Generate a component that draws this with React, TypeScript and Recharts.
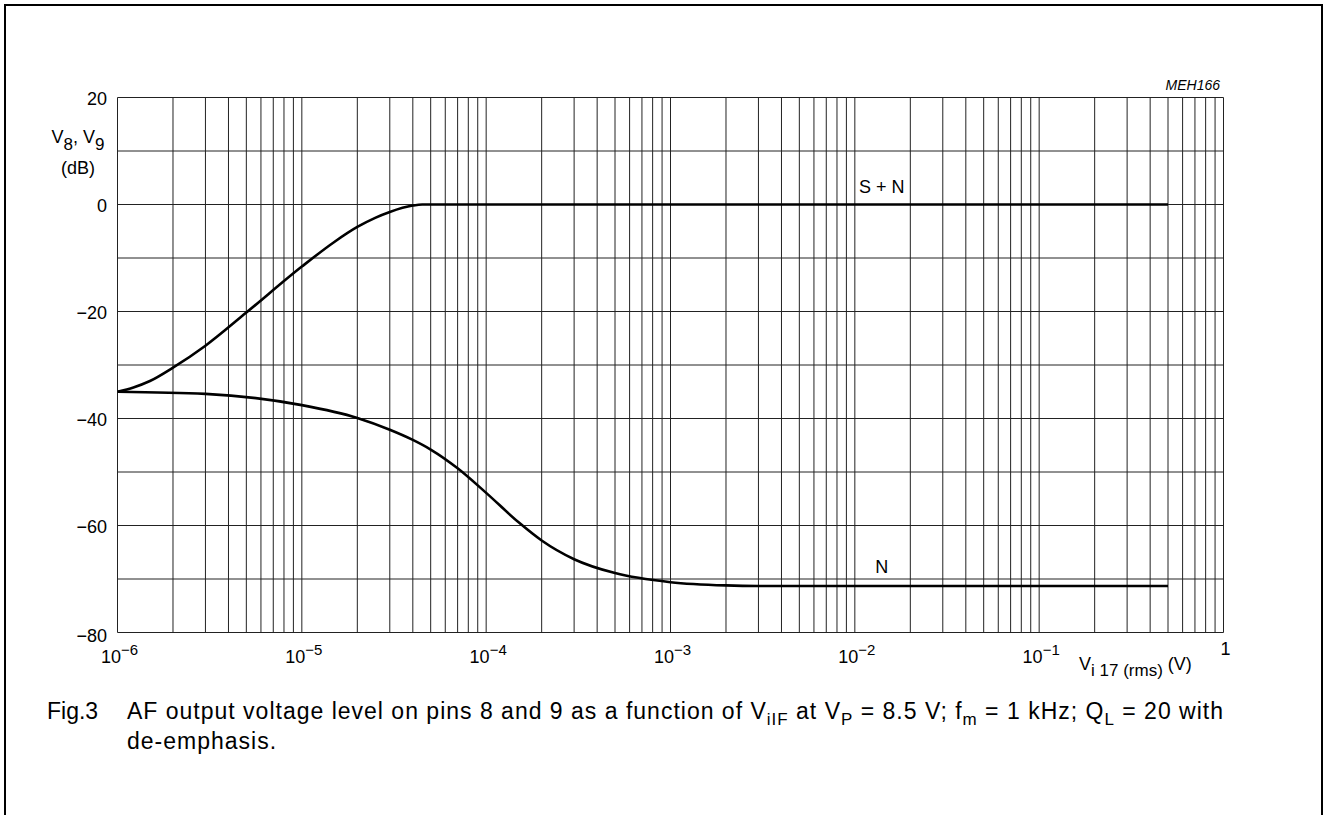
import React from 'react';
import { LineChart, Line, XAxis, YAxis, CartesianGrid, ReferenceDot } from 'recharts';

// S + N curve
const snX = [1e-6, 1.22e-6, 1.5e-6, 2e-6, 3e-6, 5e-6, 1e-5, 1.5e-5, 2e-5, 2.5e-5, 3e-5, 4e-5, 4.5e-5, 0.5];
const snY = [-35, -34.2, -33.0, -30.5, -26.4, -20.2, -11.6, -7.0, -4.2, -2.5, -1.4, -0.2, 0, 0];
// N curve
const nX = [1e-6, 3e-6, 1e-5, 2e-5, 3e-5, 4e-5, 5e-5, 7e-5, 1e-4, 1.5e-4, 2e-4, 3e-4, 5e-4, 1e-3, 2e-3, 3e-3, 0.5];
const nY = [-35, -35.4, -37.5, -39.9, -42.1, -44.0, -45.8, -49.3, -53.9, -59.4, -62.8, -66.3, -68.9, -70.6, -71.2, -71.3, -71.3];

// axes
const decadeExponents = [-6, -5, -4, -3, -2, -1, 0];
const decadeLabels = ['\u22126', '\u22125', '\u22124', '\u22123', '\u22122', '\u22121', ''];
const minorMultipliers = [1, 2, 3, 4, 5, 6, 7, 8, 9];
const yTicks = [-80, -70, -60, -50, -40, -30, -20, -10, 0, 10, 20];
const yLabeled = [-80, -60, -40, -20, 0, 20];

const xTicks: number[] = [];
decadeExponents.forEach((e) => {
  if (e === 0) {
    xTicks.push(1);
  } else {
    minorMultipliers.forEach((m) => xTicks.push(Number((m * Math.pow(10, e)).toPrecision(3))));
  }
});

const snData = snX.map((x, i) => ({ x, y: snY[i] }));
const nData = nX.map((x, i) => ({ x, y: nY[i] }));

const FONT = '"Liberation Sans", Arial, Helvetica, sans-serif';

const XTick = (props: any) => {
  const { x, y, payload } = props;
  const v = Number(payload.value);
  const idx = decadeExponents.findIndex((e) => Math.abs(Math.pow(10, e) - v) / v < 1e-6);
  if (idx < 0) return <g />;
  if (decadeExponents[idx] === 0) {
    return (
      <text x={x + 2} y={y + 22} textAnchor="middle" fontFamily={FONT} fontSize={18} fill="#000">1</text>
    );
  }
  return (
    <text x={x + 2} y={y + 30} textAnchor="middle" fontFamily={FONT} fontSize={18} fill="#000">
      10<tspan dy={-8} fontSize={15}>{decadeLabels[idx]}</tspan>
    </text>
  );
};

const YTick = (props: any) => {
  const { x, y, payload } = props;
  const v = Number(payload.value);
  if (!yLabeled.includes(v)) return <g />;
  const txt = v < 0 ? '\u2212' + Math.abs(v) : String(v);
  return (
    <text x={x - 10.5} y={y + (v === -80 ? 9 : 7)} textAnchor="end" fontFamily={FONT} fontSize={18} fill="#000">{txt}</text>
  );
};

export default function App() {
  return (
    <div style={{ position: 'absolute', left: 0, top: 0, width: 1326, height: 815, overflow: 'hidden', background: '#fff' }}>
      <div style={{ position: 'absolute', left: 4, top: 4, width: 1319, height: 900, border: '2px solid #000', boxSizing: 'border-box' }} />
      <div style={{ position: 'absolute', left: 0, top: 0 }}>
        <LineChart width={1326} height={815} margin={{ top: 97.5, right: 102.5, bottom: 132.5, left: 57.5 }}>
          <CartesianGrid stroke="#222" strokeWidth={1} />
          <XAxis
            dataKey="x"
            type="number"
            scale="log"
            domain={[1e-6, 1]}
            ticks={xTicks}
            interval={0}
            allowDataOverflow
            axisLine={false}
            tickLine={false}
            tickSize={0}
            tickMargin={0}
            height={50}
            tick={XTick}
          />
          <YAxis
            type="number"
            domain={[-80, 20]}
            ticks={yTicks}
            interval={0}
            allowDataOverflow
            axisLine={false}
            tickLine={false}
            tickSize={0}
            tickMargin={0}
            width={60}
            tick={YTick}
          />
          <Line data={snData} dataKey="y" type="monotone" stroke="#000" strokeWidth={2.6} dot={false} isAnimationActive={false} />
          <Line data={nData} dataKey="y" type="monotone" stroke="#000" strokeWidth={2.6} dot={false} isAnimationActive={false} />
          <ReferenceDot x={0.014} y={0} r={0} fill="none" stroke="none"
            label={{ value: 'S + N', position: 'top', offset: 12, fontFamily: FONT, fontSize: 18, fill: '#000' }} />
          <ReferenceDot x={0.014} y={-71.3} r={0} fill="none" stroke="none"
            label={{ value: 'N', position: 'top', offset: 13, fontFamily: FONT, fontSize: 18, fill: '#000' }} />
        </LineChart>
      </div>
      <svg width={1326} height={815} style={{ position: 'absolute', left: 0, top: 0, pointerEvents: 'none' }}>
        <text x={1220} y={90} textAnchor="end" fontFamily={FONT} fontSize={14} fontStyle="italic" fill="#000">MEH166</text>
        <text x={78} y={143} textAnchor="middle" fontFamily={FONT} fontSize={18} fill="#000">
          V<tspan dy={7} fontSize={17}>8</tspan><tspan dy={-7}>, V</tspan><tspan dy={7} fontSize={17}>9</tspan>
        </text>
        <text x={78} y={174} textAnchor="middle" fontFamily={FONT} fontSize={18} fill="#000">(dB)</text>
        <text x={1079} y={670} fontFamily={FONT} fontSize={18} fill="#000">
          V<tspan dy={6} fontSize={17}>i 17 (rms)</tspan><tspan dy={-6}> (V)</tspan>
        </text>
        <text x={47} y={719} fontFamily={FONT} fontSize={23} fill="#000">Fig.3</text>
        <text x={127} y={719} fontFamily={FONT} fontSize={23} letterSpacing={1.0} fill="#000">
          AF output voltage level on pins 8 and 9 as a function of V<tspan dy={6} fontSize={17}>iIF</tspan>
          <tspan dy={-6}> at V</tspan><tspan dy={6} fontSize={17}>P</tspan>
          <tspan dy={-6}> = 8.5 V; f</tspan><tspan dy={6} fontSize={17}>m</tspan>
          <tspan dy={-6}> = 1 kHz; Q</tspan><tspan dy={6} fontSize={17}>L</tspan>
          <tspan dy={-6}> = 20 with</tspan>
        </text>
        <text x={127} y={749} fontFamily={FONT} fontSize={23} letterSpacing={1.0} fill="#000">de-emphasis.</text>
      </svg>
    </div>
  );
}
